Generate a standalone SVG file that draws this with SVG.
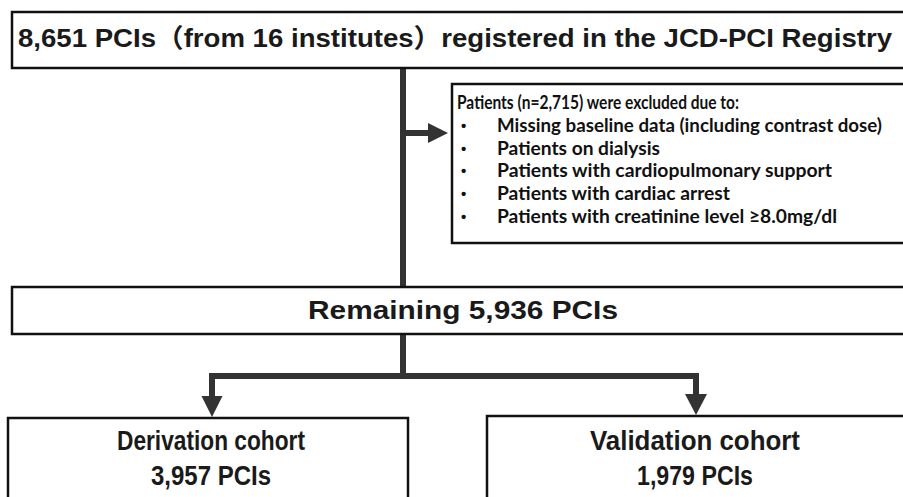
<svg xmlns="http://www.w3.org/2000/svg" width="903" height="497" viewBox="0 0 903 497">
<style>
.box{fill:#fff;stroke:#111;stroke-width:2.5}
.big{font-family:"Liberation Sans","Noto Sans CJK JP",sans-serif;font-weight:bold;fill:#1a1a1a}
.small{font-family:Lato,"Liberation Sans",sans-serif;font-weight:bold;fill:#111;font-size:18px}
.bul{font-family:"Liberation Sans",sans-serif;font-weight:bold;fill:#111;font-size:15px}
.conn{fill:none;stroke:#333;stroke-width:6;stroke-linejoin:miter}
.head{fill:#333}
</style>
<rect width="903" height="497" fill="#fff"/>
<g id="connectors">
<path class="conn" d="M403,68 V287"/>
<path class="conn" d="M406,133 H430"/>
<polygon class="head" points="428,123 448,133 428,143"/>
<path class="conn" d="M403,334 V376"/>
<path class="conn" d="M212,398 V376 H696 V396"/>
<polygon class="head" points="201.5,396 222.5,396 212,417"/>
<polygon class="head" points="685,394 707,394 696,415"/>
</g>
<g id="registry">
<rect class="box" x="12" y="12" width="900" height="56"/>
<text class="big" x="18" y="47" font-size="26" textLength="874" lengthAdjust="spacingAndGlyphs">8,651 PCIs（from 16 institutes）registered in the JCD-PCI Registry</text>
</g>
<g id="excluded">
<rect class="box" x="452" y="84" width="460" height="159"/>
<text class="small" x="457" y="109" font-size="15.5" textLength="282" lengthAdjust="spacingAndGlyphs">Patients (n=2,715) were excluded due to:</text>
<text class="bul" x="461" y="131">•</text>
<text class="small" x="497" y="132" textLength="385" lengthAdjust="spacingAndGlyphs">Missing baseline data (including contrast dose)</text>
<text class="bul" x="461" y="154">•</text>
<text class="small" x="497" y="155" textLength="163" lengthAdjust="spacingAndGlyphs">Patients on dialysis</text>
<text class="bul" x="461" y="176">•</text>
<text class="small" x="497" y="177" textLength="335" lengthAdjust="spacingAndGlyphs">Patients with cardiopulmonary support</text>
<text class="bul" x="461" y="199">•</text>
<text class="small" x="497" y="200" textLength="233" lengthAdjust="spacingAndGlyphs">Patients with cardiac arrest</text>
<text class="bul" x="461" y="222">•</text>
<text class="small" x="497" y="223" textLength="340" lengthAdjust="spacingAndGlyphs">Patients with creatinine level ≥8.0mg/dl</text>
</g>
<g id="remaining">
<rect class="box" x="12" y="287" width="900" height="47"/>
<text class="big" x="308" y="319" font-size="26" textLength="310" lengthAdjust="spacingAndGlyphs">Remaining 5,936 PCIs</text>
</g>
<g id="derivation">
<rect class="box" x="8" y="418" width="400" height="100"/>
<text class="big" x="211" y="450" font-size="27" text-anchor="middle" textLength="188" lengthAdjust="spacingAndGlyphs">Derivation cohort</text>
<text class="big" x="211" y="485" font-size="27" text-anchor="middle" textLength="120" lengthAdjust="spacingAndGlyphs">3,957 PCIs</text>
</g>
<g id="validation">
<rect class="box" x="487" y="416" width="430" height="100"/>
<text class="big" x="695" y="450" font-size="27" text-anchor="middle" textLength="210" lengthAdjust="spacingAndGlyphs">Validation cohort</text>
<text class="big" x="695" y="485" font-size="27" text-anchor="middle" textLength="116" lengthAdjust="spacingAndGlyphs">1,979 PCIs</text>
</g>
</svg>
